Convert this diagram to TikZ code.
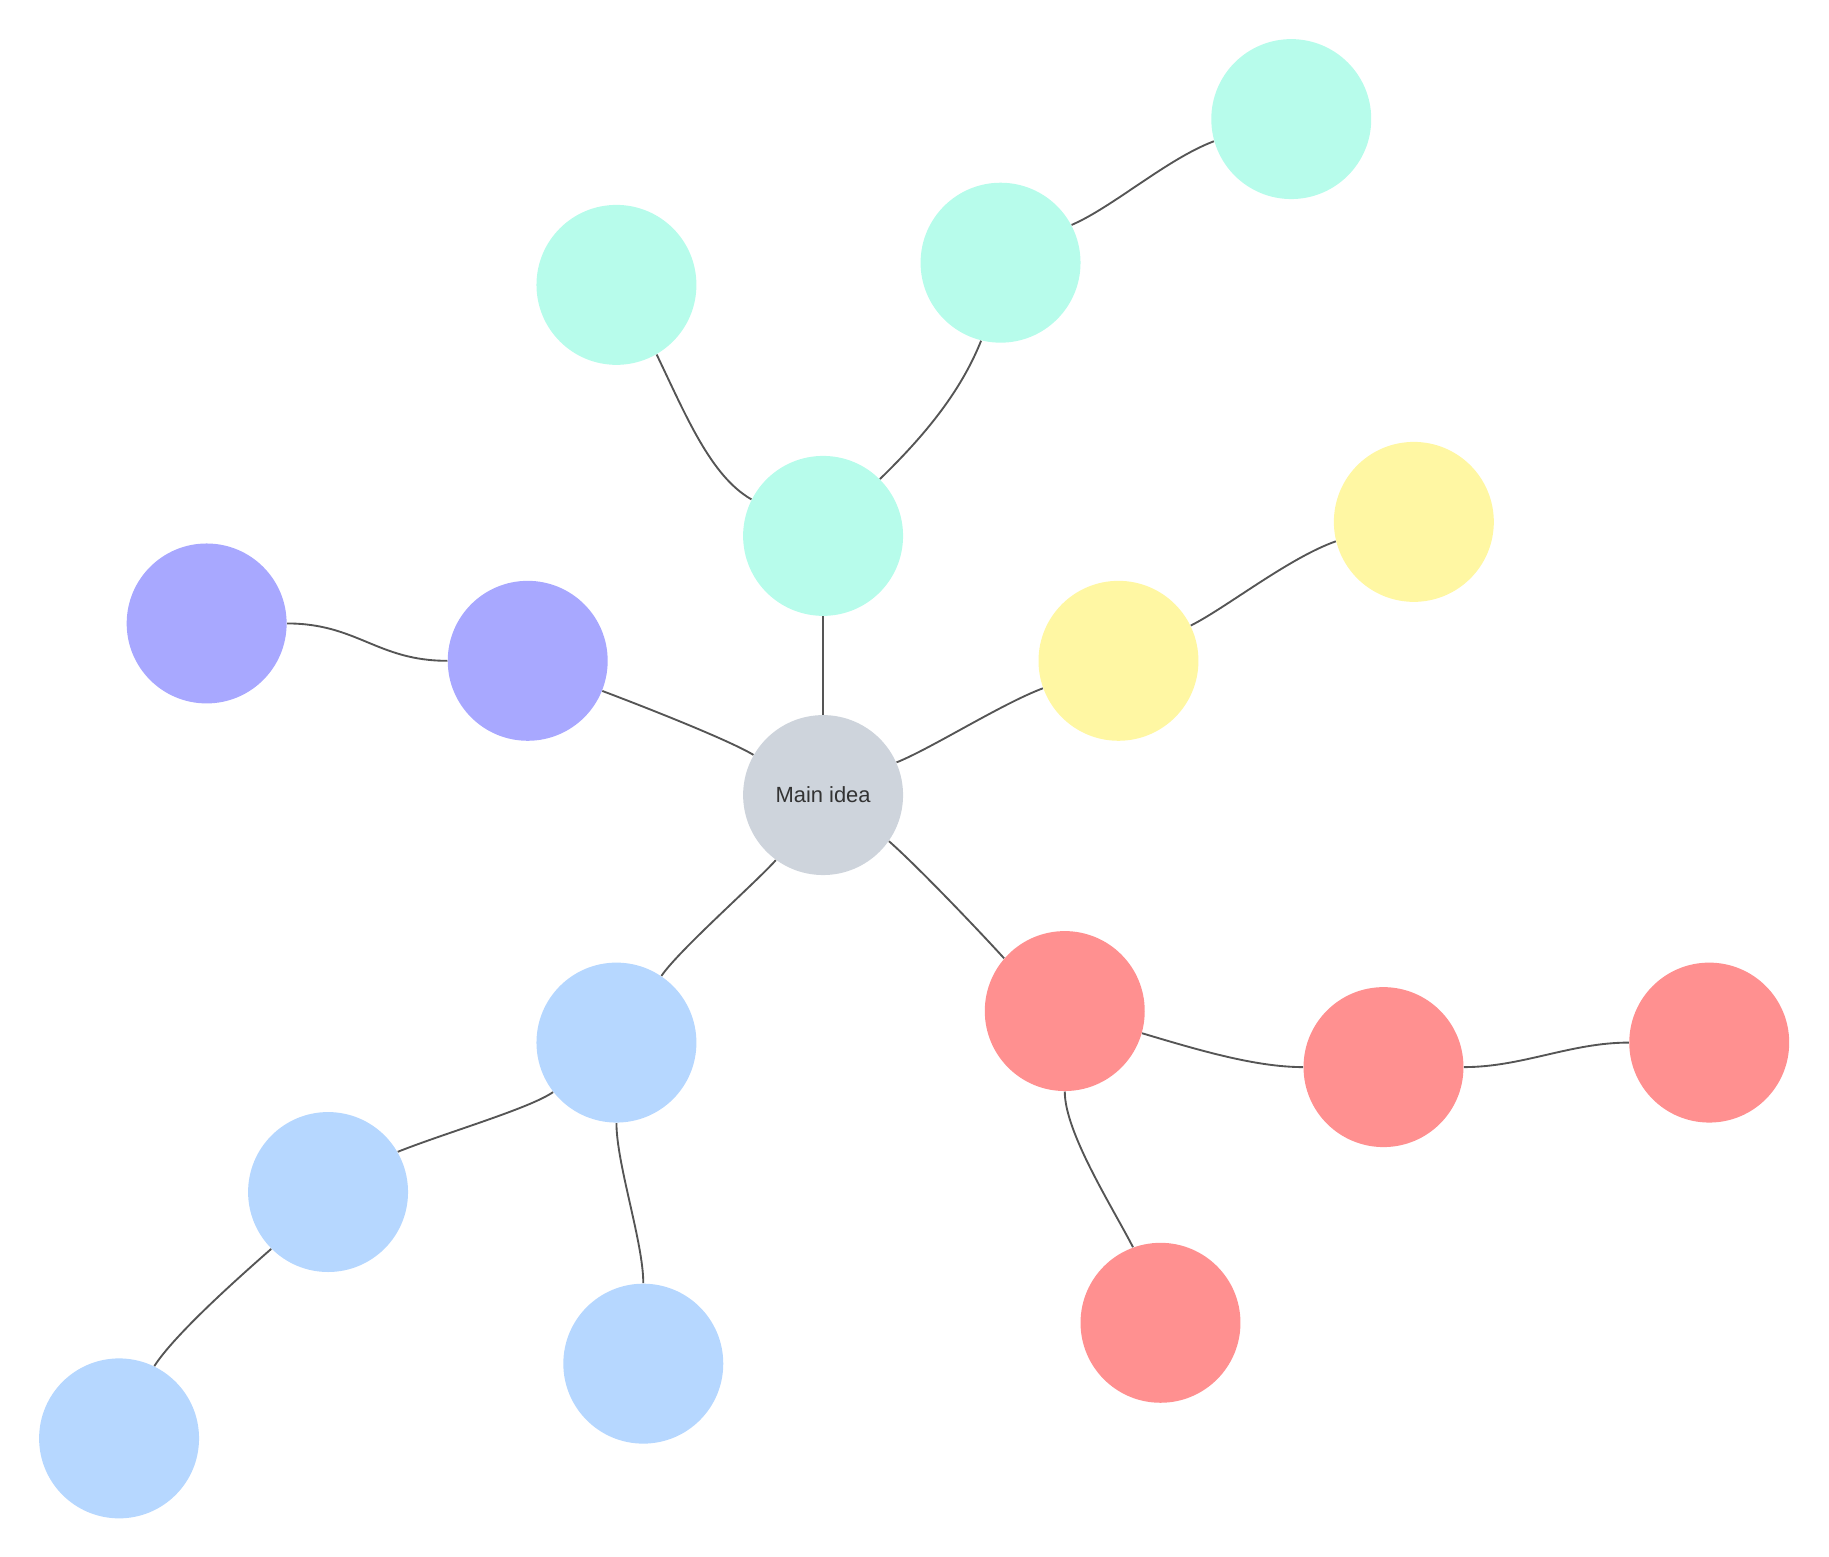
\documentclass[tikz,border=0pt]{standalone}
\usepackage{fontspec}
\setmainfont{Liberation Sans}
\definecolor{cgray}{RGB}{206,212,220}
\definecolor{cteal}{RGB}{183,252,235}
\definecolor{cyellow}{RGB}{255,247,163}
\definecolor{cpurple}{RGB}{168,168,255}
\definecolor{cred}{RGB}{255,144,144}
\definecolor{cblue}{RGB}{182,215,255}
\definecolor{cline}{RGB}{85,85,85}
\definecolor{ctext}{RGB}{51,51,51}
\begin{document}
\begin{tikzpicture}[x=0.5pt,y=-0.5pt,
  bubble/.style={circle,minimum size=68.5pt,inner sep=0pt,draw=none},
  conn/.style={draw=cline,line width=0.8pt}]
\useasboundingbox (0,0) rectangle (1566.6,1333.6);
\node[bubble,fill=cgray,text=ctext,font=\fontsize{9.4pt}{11pt}\selectfont] (main) at (705,681) {Main idea};
\node[bubble,fill=cteal] (t1) at (705,459) {};
\node[bubble,fill=cteal] (t2) at (528,244) {};
\node[bubble,fill=cteal] (t3) at (857,225) {};
\node[bubble,fill=cteal] (t4) at (1106,102) {};
\node[bubble,fill=cyellow] (y1) at (958,566) {};
\node[bubble,fill=cyellow] (y2) at (1211,447) {};
\node[bubble,fill=cpurple] (p1) at (452,566) {};
\node[bubble,fill=cpurple] (p2) at (177,534) {};
\node[bubble,fill=cred] (r1) at (912,866) {};
\node[bubble,fill=cred] (r2) at (1185,914) {};
\node[bubble,fill=cred] (r3) at (1464,893) {};
\node[bubble,fill=cred] (r4) at (994,1133) {};
\node[bubble,fill=cblue] (b1) at (528,893) {};
\node[bubble,fill=cblue] (b2) at (281,1021) {};
\node[bubble,fill=cblue] (b3) at (102,1232) {};
\node[bubble,fill=cblue] (b4) at (551,1168) {};
% connectors
\draw[conn] (main.90) -- (t1.-90);
\draw[conn] (t1.153.4) .. controls +(-35,-20) and +(25,52) .. (t2.-60);
\draw[conn] (t1.45) .. controls +(37,-36) and +(-18,45) .. (t3.-104.4);
\draw[conn] (t3.28.8) .. controls +(35,-15) and +(-40,15) .. (t4.-164);
\draw[conn] (main.24.7) .. controls +(30,-12) and +(-35,13) .. (y1.-160.5);
\draw[conn] (y1.26) .. controls +(30,-15) and +(-40,14) .. (y2.-166);
\draw[conn] (main.150.5) .. controls +(-20,-12) and +(45,17) .. (p1.-22.9);
\draw[conn] (p1.180) .. controls +(-60,0) and +(60,0) .. (p2.0);
\draw[conn] (main.-35.5) .. controls +(25,22) and +(-20,-22) .. (r1.139.8);
\draw[conn] (r1.-16.3) .. controls +(50,15) and +(-40,0) .. (r2.180);
\draw[conn] (r2.0) .. controls +(50,0) and +(-50,0) .. (r3.180);
\draw[conn] (r1.-90) .. controls +(0,35) and +(-18,-35) .. (r4.110.9);
\draw[conn] (main.-126.2) .. controls +(-18,20) and +(15,-22) .. (b1.56.3);
\draw[conn] (b1.-142.8) .. controls +(-20,14) and +(40,-16) .. (b2.30.7);
\draw[conn] (b2.-135) .. controls +(-25,22) and +(18,-28) .. (b3.64.2);
\draw[conn] (b1.-90) .. controls +(0,35) and +(0,-35) .. (b4.90);
\end{tikzpicture}
\end{document}
